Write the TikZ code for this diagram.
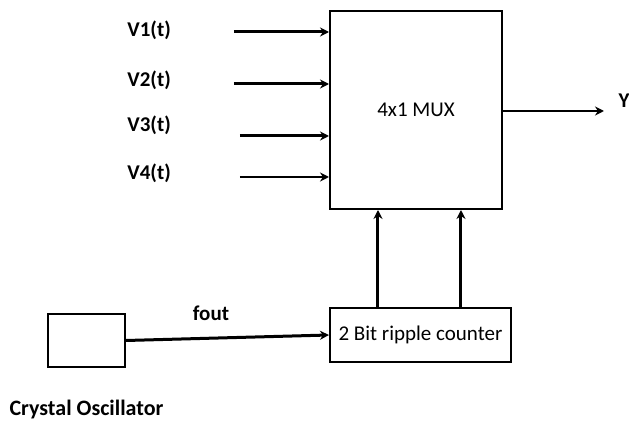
\documentclass[tikz,border=0pt]{standalone}
\usepackage{fontspec}
\setmainfont{Carlito}
\usetikzlibrary{arrows.meta,positioning,calc}

\begin{document}
\begin{tikzpicture}[
        x=0.5pt, y=-0.5pt,
        every node/.style={font=\fontsize{10.5}{12}\selectfont},
        blk/.style={rectangle, draw=black, line width=1pt, inner sep=0pt},
        lbl/.style={font=\fontsize{10.5}{12}\selectfont\bfseries, inner sep=0pt},
        arr/.style={-{Stealth[length=4.5pt,width=4.5pt]}, line width=1.5pt},
        thinarr/.style={arr, line width=1pt}
      ]
        \useasboundingbox (0,0) rectangle (629,428);

        % MUX block
        \node[blk, minimum width=86pt, minimum height=99pt] (mux) at (416,110) {4x1 MUX};

        % ripple counter and oscillator
        \node[blk, minimum width=90.5pt, minimum height=27pt] (cnt) at (420.5,335) {2 Bit ripple counter};
        \node[blk, minimum width=38.5pt, minimum height=26.5pt] (osc) at (86.5,340.5) {};
        \node[lbl, font=\fontsize{11}{13}\selectfont\bfseries] (osclbl) at (86.5,410) {Crystal Oscillator};

        % input signals
        \node[lbl, anchor=west] (v1) at (127,30) {V1(t)};
        \node[lbl, anchor=west] (v2) at (127,80) {V2(t)};
        \node[lbl, anchor=west] (v3) at (127,125) {V3(t)};
        \node[lbl, anchor=west] (v4) at (127,173) {V4(t)};
        \coordinate (in1) at (234,32);
        \coordinate (in2) at (234,84);
        \coordinate (in3) at (240,136);
        \coordinate (in4) at (240,177);
        \draw[arr] (in1) -- (in1 -| mux.west);
        \draw[arr] (in2) -- (in2 -| mux.west);
        \draw[arr] (in3) -- (in3 -| mux.west);
        \draw[thinarr] (in4) -- (in4 -| mux.west);

        % output
        \node[lbl] (ylbl) at (624,101) {Y};
        \coordinate (yout) at (604,111);
        \draw[thinarr] (yout -| mux.east) -- (yout);

        % select lines
        \coordinate (s0) at ([xshift=-21.25pt]cnt.north);
        \coordinate (s1) at ([xshift=20.25pt]cnt.north);
        \draw[arr] (s0) -- (s0 |- mux.south);
        \draw[arr] (s1) -- (s1 |- mux.south);

        % clock
        \node[lbl] (fout) at (211,313) {fout};
        \draw[arr] (osc.east) -- (cnt.west);

      \end{tikzpicture}
\end{document}
